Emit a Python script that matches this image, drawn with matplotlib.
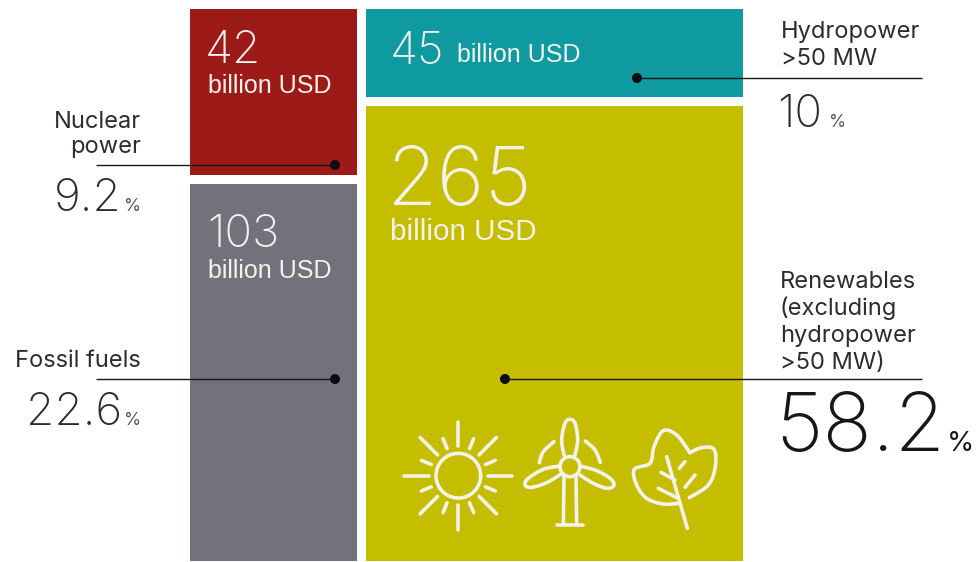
import numpy as np
import matplotlib
matplotlib.use("Agg")
import matplotlib.pyplot as plt
from matplotlib.patches import Circle

# Investment by energy source
sources = ["Nuclear power", "Fossil fuels", "Hydropower >50 MW", "Renewables"]
amounts = [42, 103, 45, 265]
shares = ["9.2", "22.6", "10", "58.2"]
unit = "billion USD"

# Box geometry in pixels: left, top, right, bottom
boxes = [(190, 9, 357, 175), (190, 184, 357, 561), (366, 9, 743, 97), (366, 106, 743, 561)]
colors = ["#9C1A17", "#72727C", "#0E9AA0", "#C5BE00"]
LABEL = "#2B2B33"
WHITE = "#F4F2EA"
SANS = "Liberation Sans"
NAME = "Inter"
THIN = "Inter"

fig = plt.figure(figsize=(9.78, 5.62), dpi=100)
ax = fig.add_axes([0, 0, 1, 1])
ax.set_xlim(0, 978)
ax.set_ylim(562, 0)
ax.axis("off")

for (l, t, r, b), c in zip(boxes, colors):
    ax.bar(l, b - t, width=r - l, bottom=t, align="edge", color=c, linewidth=0)


def txt(x, y, s, size, color=LABEL, family=SANS, ha="left", weight="normal"):
    ax.text(x, y, s, fontsize=size, color=color, family=family, ha=ha, va="baseline", weight=weight)


# Amounts inside the boxes
txt(205, 63, str(amounts[0]), 33, WHITE, THIN, weight="light")
txt(208, 93, unit, 18, WHITE)
txt(207, 247, str(amounts[1]), 33, WHITE, THIN, weight="light")
txt(208, 278, unit, 18, WHITE)
txt(390, 64, str(amounts[2]), 33, WHITE, THIN, weight="light")
txt(457, 62, unit, 18, WHITE)
txt(387, 205, str(amounts[3]), 59, WHITE, THIN, weight="light")
txt(390, 240, unit, 21.3, WHITE)

# Leader lines with end dots
leaders = [(96, 335, 165), (96, 335, 379), (922, 637, 78), (922, 505, 379)]
for x0, x1, y in leaders:
    ax.plot([x0, x1], [y, y], color="#15151A", lw=1.0, solid_capstyle="butt")
    ax.add_patch(Circle((x1, y), 5, color="#0C0C10", lw=0))

# Source names
txt(141, 128, "Nuclear", 17, family=NAME, ha="right")
txt(141, 153, "power", 17, family=NAME, ha="right")
txt(141, 367, "Fossil fuels", 17, family=NAME, ha="right")
txt(781, 38, "Hydropower", 17, family=NAME)
txt(781, 65, ">50 MW", 17, family=NAME)
for y, s in zip([288, 315, 342, 369], ["Renewables", "(excluding", "hydropower", ">50 MW)"]):
    txt(780, y, s, 17, family=NAME)

# Shares with a small percent sign
txt(122, 211, shares[0], 33, LABEL, THIN, "right", "light")
txt(124, 211, "%", 12.5, "#55555C", NAME)
txt(122, 425, shares[1], 33, LABEL, THIN, "right", "light")
txt(124, 425, "%", 12.5, "#55555C", NAME)
txt(777, 127, shares[2], 33, LABEL, THIN, weight="light")
txt(829, 127, "%", 12.5, "#55555C", NAME)
txt(775, 451, shares[3], 59, "#16161C", THIN, weight="light")
txt(947, 451, "%", 20, "#16161C", NAME)


# Icon outlines, given on a 3x grid anchored at (400, 410)
def gx(v):
    return 400 + np.asarray(v, float) / 3


def gy(v):
    return 410 + np.asarray(v, float) / 3


def smooth(pts, closed=False, n=12):
    """Catmull-Rom curve through the given points."""
    p = np.asarray(pts, float)
    p = np.vstack([p[-1], p, p[:2]]) if closed else np.vstack([p[0], p, p[-1]])
    out = []
    for i in range(1, len(p) - 2):
        a, b, c, d = p[i - 1], p[i], p[i + 1], p[i + 2]
        for t in np.linspace(0, 1, n, endpoint=False):
            out.append(0.5 * (2 * b + (c - a) * t + (2 * a - 5 * b + 4 * c - d) * t ** 2
                              + (3 * b - a - 3 * c + d) * t ** 3))
    out.append(p[-2])
    return np.array(out)


def stroke(pts, lw=2.6):
    pts = np.asarray(pts, float)
    ax.plot(gx(pts[:, 0]), gy(pts[:, 1]), color=WHITE, lw=lw, solid_capstyle="round",
            solid_joinstyle="round")


# Sun
cx, cy = 175, 197
t = np.linspace(0, 2 * np.pi, 120)
stroke(np.c_[cx + 67 * np.cos(t), cy + 67 * np.sin(t)])
for k in range(16):
    a = k * np.pi / 8
    r0, r1 = (88, 162) if k % 2 == 0 else (88, 120)
    stroke([[cx + r0 * np.cos(a), cy + r0 * np.sin(a)], [cx + r1 * np.cos(a), cy + r1 * np.sin(a)]])

# Wind turbine
hx, hy = 510, 170
stroke(np.c_[hx + 30 * np.cos(t), hy + 30 * np.sin(t)])
stroke(smooth([(492, 135), (485, 90), (495, 40), (510, 28), (525, 40), (533, 90), (525, 135)]))
stroke(smooth([(480, 168), (430, 178), (385, 205), (375, 225), (395, 232), (440, 218), (482, 193)]))
stroke(smooth([(540, 168), (590, 182), (630, 205), (642, 225), (622, 235), (580, 220), (540, 195)]))
stroke(smooth([(418, 158), (430, 125), (462, 95)]))
stroke(smooth([(556, 93), (585, 120), (601, 157)]))
stroke([(492, 198), (490, 343)])
stroke([(528, 198), (530, 343)])
stroke([(470, 345), (550, 345)])

# Leaf
stroke(smooth([(835, 280), (790, 282), (740, 265), (710, 225), (703, 178), (750, 160),
               (762, 110), (790, 62), (830, 75), (870, 128)]))
stroke(smooth([(870, 128), (905, 113), (942, 118), (946, 170), (925, 225), (868, 263)]))
stroke([(800, 140), (862, 355)])
stroke([(835, 265), (775, 235)])
stroke([(825, 210), (783, 187)])
stroke([(838, 175), (855, 155)])
stroke([(855, 232), (885, 195)])

fig.savefig("out.png", dpi=100)
